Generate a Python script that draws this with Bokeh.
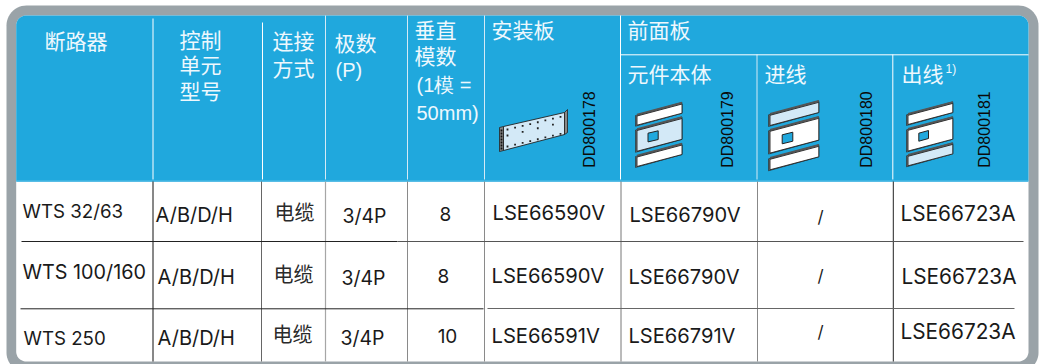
import numpy as np
from bokeh.embed import file_html
from bokeh.resources import INLINE
from bokeh.plotting import figure
from bokeh.models import Range1d, ColumnDataSource
from bokeh.core.properties import value

# ---- table content ----
breakers = ["WTS 32/63", "WTS 100/160", "WTS 250"]
control_units = ["A/B/D/H", "A/B/D/H", "A/B/D/H"]
connections = ["电缆", "电缆", "电缆"]
poles = ["3/4P", "3/4P", "3/4P"]
modules = ["8", "8", "10"]
mounting = ["LSE66590V", "LSE66590V", "LSE66591V"]
body = ["LSE66790V", "LSE66790V", "LSE66791V"]
incoming = ["/", "/", "/"]
outgoing = ["LSE66723A", "LSE66723A", "LSE66723A"]
header_cjk = ["断路器", "控制", "单元", "型号", "连接", "方式", "极数", "垂直", "模数",
              "安装板", "前面板", "元件本体", "进线", "出线"]
header_latin = ["(P)", "(1模 =", "50mm)"]
drawing_codes = ["DD800178", "DD800179", "DD800180", "DD800181"]

# ---- layout (page pixels) ----
W, H = 1043, 364
GRAY, BLUE, PALE, INK = "#9aa3a8", "#20a8dd", "#d3e9f7", "#1a1a1a"
CJK, LATIN, BODY = "Noto Sans CJK SC", "Liberation Sans", "Inter"

p = figure(width=W, height=H, x_range=Range1d(0, W), y_range=Range1d(H, 0),
           toolbar_location=None, output_backend="svg", min_border=0,
           outline_line_color=None, background_fill_color="white")
p.axis.visible = False
p.grid.visible = False
p.styles = {"position": "absolute", "left": "0px", "top": "0px"}


def rounded(x0, y0, x1, y1, rt, rb):
    xs, ys = [], []
    for cx, cy, r, a0 in [(x0 + rt, y0 + rt, rt, 180), (x1 - rt, y0 + rt, rt, 270),
                          (x1 - rb, y1 - rb, rb, 0), (x0 + rb, y1 - rb, rb, 90)]:
        t = np.radians(np.linspace(a0, a0 + 90, 14)) if r else np.radians([a0])
        xs += list(cx + r * np.cos(t))
        ys += list(cy + r * np.sin(t))
    return xs, ys


for args, col in [((6, 5, 1038, 372, 20, 20), GRAY), ((15.7, 15, 1028, 361, 10, 10), "white"),
                  ((15.7, 15, 1028, 180.5, 10, 0), BLUE)]:
    xs, ys = rounded(*args)
    p.patch(xs, ys, fill_color=col, line_color=None)

p.line([15.7, 1028], [180.7, 180.7], line_color="#58bde6", line_width=1.5)

# header rules
for x, y0, c in [(152.5, 18, "#ffffff"), (262, 22, "#ffffff"), (325, 15, "#d4eaf6"), (407, 15, "#d4eaf6"),
                 (484, 15, "#d4eaf6"), (620, 15, "#ffffff"), (756.5, 54, "#d4eaf6"), (892.3, 54, "#ffffff")]:
    p.line([x, x], [y0, 179], line_color=c, line_width=1)
p.line([620, 1028], [54.3, 54.3], line_color="white", line_width=1)

# body rules
for x, c, w in [(152.5, "#111111", 1), (261, "#666666", 1), (325, "#a6a6a6", 1.2), (407, "#8a8a8a", 1),
                (484, "#8a8a8a", 1), (620.5, "#777777", 1), (757, "#888888", 1), (892.8, "#222222", 1)]:
    p.line([x, x], [181, 361], line_color=c, line_width=w)
for x0, x1, y, c in [(21, 397, 241, "#222222"), (397, 1023, 241, "#555555"),
                     (20, 483, 308.3, "#222222"), (487, 1014, 308, "#666666")]:
    p.line([x0, x1], [y, y], line_color=c, line_width=1)


# icons
def para(x0, x1, yl, yr, yh, fill):
    p.patch([x0 - 1.5, x0 - 1.5, x1, x1], [yl + 1, yl + yh + 1, yr + yh, yr],
            fill_color="#777777", line_color="#222222", line_width=0.6)
    p.patch([x0, x1, x1, x0], [yl + 1.5, yr + 1.5, yr + yh, yl + yh],
            fill_color=fill, line_color="#222222", line_width=0.9)
    p.line([x0, x1], [yl, yr], line_color="#555555", line_width=1.5)


for x0, x1, tops, heights, fills, win in [
    (636.5, 681.5, [114, 128.5, 155], [10.7, 22.3, 11], ["white", PALE, "white"], (647.5, 657.7, 132.7, 130.3, 8.7)),
    (769.5, 818.3, [113.3, 129.3, 157.3], [11.7, 23.3, 12], [PALE, "white", "white"], (781.7, 792.3, 134.3, 131.7, 9)),
    (907.5, 952.3, [113.3, 128.3, 154.3], [10.7, 22.3, 11], ["white", "white", PALE], (918.3, 928, 132.7, 130, 8)),
]:
    slope = (x1 - x0) * 0.266
    for top, hh, fill in zip(tops, heights, fills):
        para(x0, x1, top, top - slope, hh, fill)
    p.patch([win[0], win[1], win[1], win[0]], [win[2], win[3], win[3] + win[4], win[2] + win[4]],
            fill_color=BLUE, line_color="#222222", line_width=1)

# mounting plate
p.patch([499, 503, 503, 499], [127, 126, 150, 151], fill_color="#888888", line_color="#222222", line_width=0.8)
p.patch([503, 564, 564, 503], [126, 112, 134, 150], fill_color=PALE, line_color="#222222", line_width=0.9)
p.patch([564, 567, 567, 564], [112, 109, 132, 134], fill_color="#888888", line_color="#222222", line_width=0.8)
dx = np.linspace(507, 560, 8)
p.scatter(np.r_[dx, dx, dx[::2]], np.r_[129 - (dx - 507) * 0.24, 146 - (dx - 507) * 0.24, 135 - (dx[::2] - 507) * 0.24],
          size=1.8, marker="square", fill_color="#222222", line_color=None)
p.scatter([501] * 7, np.linspace(130, 148, 7),
          size=1.8, marker="square", fill_color="#111111", line_color=None)


def put(labels, xs, ys, font, size, color, align="left", angle=0.0):
    sizes = size if isinstance(size, list) else [size] * len(labels)
    src = ColumnDataSource(dict(x=xs, y=ys, t=labels, s=sizes))
    p.text("x", "y", text="t", source=src, text_font=value(font), text_font_size="s", text_color=color,
           text_align=align, text_baseline="middle", angle=angle)


# header text
put(header_cjk,
    [44, 179, 179, 179, 272, 272, 334, 414, 414, 491, 627, 627, 764, 901],
    [39, 38, 63, 89, 39, 66, 41, 28, 54, 28, 28, 72, 72, 72],
    CJK, "21px", "#eef8fd")
put(header_latin, [335, 416, 416], [69, 84, 112], LATIN, "20px", "#eef8fd")
put(["1)"], [945], [68], LATIN, "12px", "#eef8fd")
put(drawing_codes, [589, 727, 866, 984], [129, 129, 129, 129], LATIN, "16px", "#0a0a0a", "center", np.pi / 2)

# body text
put(breakers, [22, 22, 23], [211, 271, 338], BODY, ["18.7px", "19.8px", "18.7px"], INK)
put(control_units, [155, 157, 157], [214, 276, 337], BODY, "20px", INK)
put(connections, [274, 273, 272], [211, 273, 333], CJK, "20px", "#2a2a2a")
put(poles, [342, 341, 340], [215, 277, 337], BODY, "19.4px", INK)
put(modules, [445, 443, 447], [213, 275, 335], BODY, "19px", INK, "center")
put(mounting, [492, 491, 491], [212, 275, 335], BODY, "20.2px", INK)
put(body, [629, 628, 628], [214, 276, 335], BODY, "20.1px", INK)
put(incoming, [820, 820, 820], [216, 275, 331], BODY, "17px", INK, "center")
put(outgoing, [900, 901, 900], [213, 276, 331], BODY, "20.8px", INK)

open("out.html", "w").write(file_html(p, INLINE))
